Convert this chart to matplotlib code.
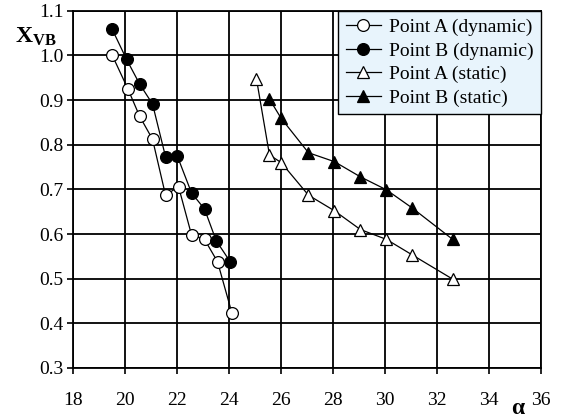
import matplotlib
matplotlib.use('Agg')
import matplotlib.pyplot as plt

plt.rcParams['font.family'] = ['Liberation Serif', 'DejaVu Serif']
plt.rcParams['mathtext.fontset'] = 'custom'
plt.rcParams['mathtext.rm'] = 'Liberation Serif'
plt.rcParams['mathtext.bf'] = 'Liberation Serif:bold'
plt.rcParams['mathtext.it'] = 'Liberation Serif:italic'

# Point A (dynamic)
alpha_a_dyn = [19.5, 20.1, 20.55, 21.05, 21.55, 22.05, 22.55, 23.05, 23.55, 24.1]
xvb_a_dyn = [1.0, 0.925, 0.864, 0.812, 0.687, 0.706, 0.598, 0.588, 0.538, 0.424]

# Point B (dynamic)
alpha_b_dyn = [19.5, 20.05, 20.55, 21.05, 21.55, 22.0, 22.55, 23.05, 23.5, 24.05]
xvb_b_dyn = [1.058, 0.991, 0.936, 0.891, 0.773, 0.775, 0.692, 0.656, 0.585, 0.537]

# Point A (static)
alpha_a_st = [25.05, 25.55, 26.0, 27.05, 28.05, 29.05, 30.05, 31.05, 32.6]
xvb_a_st = [0.947, 0.777, 0.760, 0.687, 0.652, 0.610, 0.588, 0.553, 0.499]

# Point B (static)
alpha_b_st = [25.55, 26.0, 27.05, 28.05, 29.05, 30.05, 31.05, 32.6]
xvb_b_st = [0.902, 0.859, 0.782, 0.762, 0.728, 0.699, 0.658, 0.588]

fig = plt.figure(figsize=(5.62, 4.2), dpi=100)
ax = fig.add_axes([73.3 / 562, 1 - 368 / 420, (541 - 73.3) / 562, (368 - 10.7) / 420])

ms = 8.5
ax.plot(alpha_a_dyn, xvb_a_dyn, color='black', lw=0.9, marker='o', ms=ms,
        mfc='white', mec='black', mew=0.9, label='Point A (dynamic)', zorder=3)
ax.plot(alpha_b_dyn, xvb_b_dyn, color='black', lw=0.9, marker='o', ms=ms,
        mfc='black', mec='black', mew=0.9, label='Point B (dynamic)', zorder=3)
ax.plot(alpha_a_st, xvb_a_st, color='black', lw=0.9, marker='^', ms=ms + 0.5,
        mfc='white', mec='black', mew=0.9, label='Point A (static)', zorder=3)
ax.plot(alpha_b_st, xvb_b_st, color='black', lw=0.9, marker='^', ms=ms + 0.5,
        mfc='black', mec='black', mew=0.9, label='Point B (static)', zorder=3)

ax.set_xlim(18, 36)
ax.set_ylim(0.3, 1.1)
ax.set_xticks(range(18, 37, 2))
ax.set_yticks([0.3 + 0.1 * i for i in range(9)])
ax.set_yticklabels(['%.1f' % (0.3 + 0.1 * i) for i in range(9)])
ax.grid(True, color='black', lw=1.3)
ax.set_axisbelow(True)
for s in ax.spines.values():
    s.set_linewidth(1.3)
ax.tick_params(direction='out', length=4, width=1.2, labelsize=14)
ax.tick_params(axis='x', pad=13)
ax.tick_params(axis='y', pad=3)

fig.text(15 / 562, 1 - 37 / 420, r'X$_{\mathbf{VB}}$', fontsize=17, fontweight='bold',
         va='center', ha='left')
fig.text(518 / 562, 1 - 409 / 420, 'α', fontsize=17, fontweight='bold',
         va='center', ha='center')

leg = ax.legend(loc='upper right', fontsize=14, frameon=True, fancybox=False,
                borderaxespad=0, handlelength=1.8, handletextpad=0.4,
                labelspacing=0.3, borderpad=0.4)
leg.get_frame().set_facecolor('#e8f4fc')
leg.get_frame().set_edgecolor('black')
leg.get_frame().set_linewidth(1.0)
leg.get_frame().set_alpha(1)

fig.savefig('out.png', dpi=100)
